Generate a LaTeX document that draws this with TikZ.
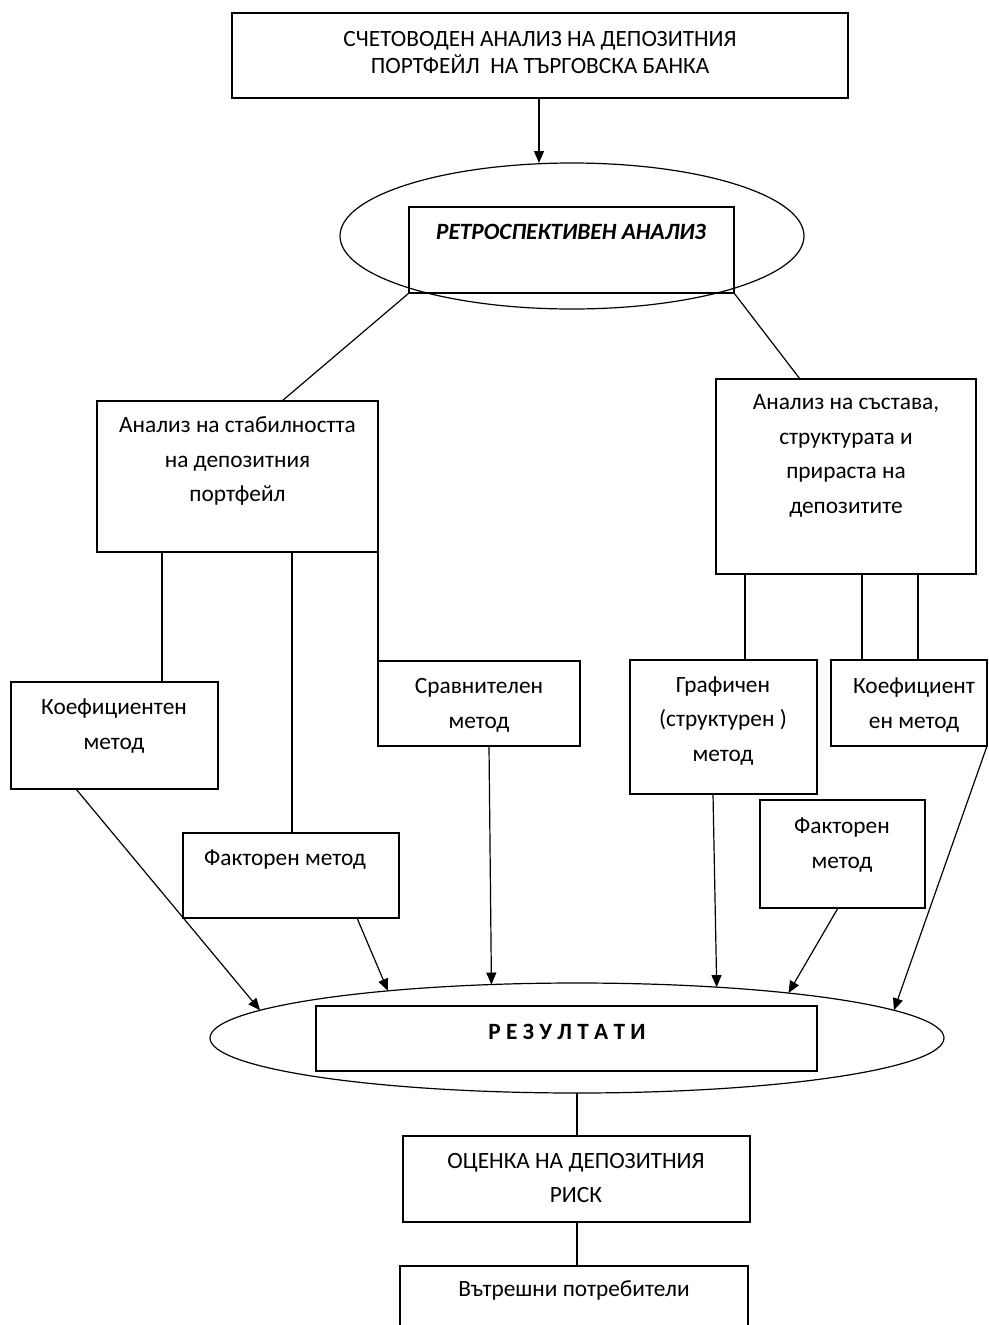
\documentclass[tikz,border=0pt]{standalone}
\usepackage{fontspec}
\setmainfont{Carlito}
\usetikzlibrary{positioning,arrows.meta,shapes.geometric,fit}

\begin{document}
\begin{tikzpicture}[x=0.75pt, y=-0.75pt, line width=0.9pt,
    font=\fontsize{17.5}{26}\selectfont,
    kutia/.style={draw, rectangle, inner sep=0pt, outer sep=0pt},
    elipsa/.style={draw, ellipse, inner sep=0pt, outer sep=0pt},
    tekst/.style={align=center, inner sep=0pt},
    strelka/.style={-{Triangle[length=9pt, width=7.5pt]}}]
  \useasboundingbox (0,0) rectangle (989,1325);
  % горе: счетоводният анализ и ретроспективният анализ
  \node[kutia, fit={(232,13) (848,98)}] (schet) {};
  \node[tekst, font=\fontsize{17.5}{20}\selectfont] (schet-t) at (540,52.5)
    {СЧЕТОВОДЕН АНАЛИЗ НА ДЕПОЗИТНИЯ\\ПОРТФЕЙЛ \ НА ТЪРГОВСКА БАНКА};
  \node[elipsa, minimum width=348pt, minimum height=109.5pt] (retro) at (572,236) {};
  \node[kutia, fit={(409,207) (734,293)}] (retro-k) {};
  \node[tekst, font=\fontsize{17.5}{26}\selectfont\bfseries\itshape] (retro-t) at (571,232)
    {РЕТРОСПЕКТИВЕН АНАЛИЗ};
  \draw[strelka] (schet.south -| 539,0) -- (retro.north -| 539,0);

  % двата вида анализ
  \node[kutia, fit={(97,401) (378,552)}] (stab) {};
  \node[tekst] (stab-t) at (237.5,461) {Анализ на стабилността\\на депозитния\\портфейл};
  \node[kutia, fit={(716,379) (976,574)}] (sastav) {};
  \node[tekst] (sastav-t) at (846,456) {Анализ на състава,\\структурата и\\прираста на\\депозитите};
  \draw (retro-k.south west) -- (stab.north -| 282,0);
  \draw (retro-k.south east) -- (sastav.north -| 800,0);

  % методи, ляво
  \node[kutia, fit={(11,682) (218,789)}] (koefl) {};
  \node[tekst] (koefl-t) at (114,726) {Коефициентен\\метод};
  \node[kutia, fit={(183,833) (399,918)}] (faktl) {};
  \node[tekst] (faktl-t) at (285,860) {Факторен метод};
  \node[kutia, fit={(378,661) (580,746)}] (srav) {};
  \node[tekst] (srav-t) at (479,705) {Сравнителен\\метод};
  \draw (stab.south -| 162,0) -- (koefl.north -| 162,0);
  \draw (stab.south -| 292,0) -- (faktl.north -| 292,0);
  \draw (stab.south east) -- (srav.north west);

  % методи, дясно
  \node[kutia, fit={(630,660) (817,794)}] (graf) {};
  \node[tekst] (graf-t) at (723,721) {Графичен\\(структурен )\\метод};
  \node[kutia, fit={(831,660) (987,746)}] (koefd) {};
  \node[tekst] (koefd-t) at (914,705) {Коефициент\\ен метод};
  \node[kutia, fit={(760,800) (925,908)}] (faktd) {};
  \node[tekst] (faktd-t) at (842,845) {Факторен\\метод};
  \draw (sastav.south -| 745,0) -- (graf.north -| 745,0);
  \foreach \x in {862,918}
    \draw (sastav.south -| \x,0) -- (koefd.north -| \x,0);

  % резултати
  \node[elipsa, minimum width=550.5pt, minimum height=82.5pt] (rezultat) at (577,1038) {};
  \node[kutia, fit={(316,1006) (817,1071)}] (rezultat-k) {};
  \node[tekst, font=\fontsize{17.5}{26}\selectfont\bfseries] (rezultat-t) at (567,1032)
    {Р Е З У Л Т А Т И};
  \draw[strelka] (koefl.south -| 76,0) -- (rezultat.175.5);
  \draw[strelka] (faktl.south -| 357,0) -- (rezultat.166.6);
  \draw[strelka] (srav.south -| 489,0) -- (rezultat.148);
  \draw[strelka] (graf.south -| 713,0) -- (rezultat.20);
  \draw[strelka] (faktd.south -| 838,0) -- (rezultat.12.5);
  \draw[strelka] (koefd.south east) -- (rezultat.5);

  % оценка и потребители
  \node[kutia, fit={(403,1136) (750,1222)}] (ocenka) {};
  \node[tekst] (ocenka-t) at (576,1178) {ОЦЕНКА НА ДЕПОЗИТНИЯ\\РИСК};
  \node[kutia, fit={(400,1266) (748,1340)}] (vatr) {};
  \node[tekst] (vatr-t) at (574,1290) {Вътрешни потребители};
  \draw (rezultat.south) -- (rezultat.south |- ocenka.north);
  \draw (ocenka.south -| rezultat.south) -- (vatr.north -| rezultat.south);
\end{tikzpicture}
\end{document}
